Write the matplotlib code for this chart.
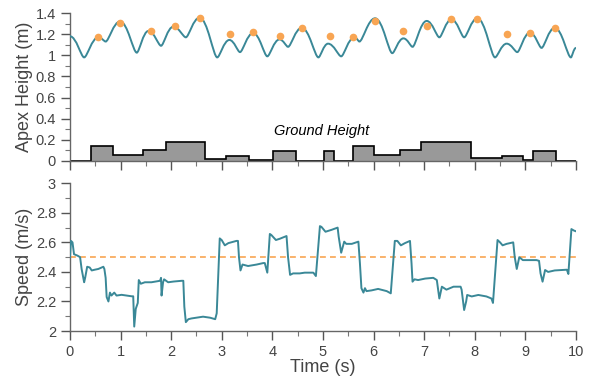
import numpy as np
import matplotlib
matplotlib.use('Agg')
import matplotlib.pyplot as plt
from matplotlib.path import Path
from matplotlib.patches import PathPatch
from matplotlib.ticker import MultipleLocator

plt.rcParams['font.family'] = ['Liberation Sans', 'DejaVu Sans']

# apex height curve: turning points (s, m)
apex_t = [0.0, 0.28, 0.56, 0.705, 0.99, 1.32, 1.55, 1.80, 2.04, 2.29,
          2.56, 2.91, 3.15, 3.36, 3.62, 3.90, 4.14, 4.31, 4.58, 4.91,
          5.10, 5.36, 5.62, 5.72, 6.03, 6.37, 6.59, 6.77, 7.05, 7.30,
          7.54, 7.79, 8.05, 8.40, 8.63, 8.84, 9.09, 9.32, 9.58, 9.90, 10.0]
apex_y = [1.18, 0.98, 1.17, 1.13, 1.32, 1.025, 1.23, 1.09, 1.27, 1.17,
          1.356, 0.98, 1.145, 1.03, 1.21, 0.99, 1.15, 1.08, 1.26, 0.98,
          1.11, 0.99, 1.17, 1.13, 1.35, 1.02, 1.16, 1.08, 1.325, 1.17,
          1.34, 1.17, 1.35, 0.98, 1.11, 1.03, 1.215, 1.07, 1.26, 0.98, 1.07]

# apex markers
dot_t = [0.56, 0.99, 1.60, 2.07, 2.56, 3.16, 3.62, 4.15, 4.58, 5.14,
         5.60, 6.03, 6.59, 7.05, 7.54, 8.05, 8.63, 9.09, 9.58]
dot_y = [1.17, 1.31, 1.23, 1.28, 1.355, 1.20, 1.22, 1.18, 1.26, 1.18,
         1.17, 1.32, 1.23, 1.28, 1.345, 1.345, 1.20, 1.21, 1.26]

# ground profile
ground_edges = [0, 0.41, 0.86, 1.45, 1.89, 2.67, 3.08, 3.54, 4.02, 4.46, 5.03,
                5.21, 5.60, 6.01, 6.52, 6.94, 7.92, 8.53, 8.95, 9.16, 9.60, 10]
ground_h = [0, 0.14, 0.06, 0.10, 0.18, 0.02, 0.045, 0.01, 0.09, 0,
            0.09, 0, 0.14, 0.06, 0.10, 0.18, 0.025, 0.045, 0.01, 0.09, 0]

# speed trace
speed_t = [0.00, 0.02, 0.05, 0.08, 0.15, 0.20, 0.23, 0.28, 0.30, 0.34,
           0.39, 0.43, 0.49, 0.56, 0.66, 0.68, 0.705, 0.725, 0.76, 0.79,
           0.82, 0.875, 0.92, 1.02, 1.12, 1.22, 1.25, 1.27, 1.30, 1.34,
           1.36, 1.40, 1.48, 1.61, 1.70, 1.78, 1.80, 1.81, 1.84, 1.86,
           1.94, 2.05, 2.21, 2.24, 2.26, 2.29, 2.34, 2.40, 2.50, 2.63,
           2.77, 2.87, 2.90, 2.96, 3.00, 3.06, 3.13, 3.29, 3.32, 3.34,
           3.37, 3.41, 3.52, 3.69, 3.82, 3.85, 3.90, 3.95, 3.98, 4.07,
           4.15, 4.28, 4.31, 4.35, 4.41, 4.54, 4.64, 4.81, 4.86, 4.94,
           4.97, 5.05, 5.17, 5.29, 5.31, 5.36, 5.42, 5.46, 5.57, 5.70,
           5.73, 5.76, 5.80, 5.83, 5.86, 5.96, 6.09, 6.26, 6.34, 6.42,
           6.47, 6.54, 6.62, 6.72, 6.75, 6.77, 6.81, 6.88, 7.02, 7.18,
           7.25, 7.30, 7.35, 7.44, 7.58, 7.72, 7.74, 7.79, 7.83, 7.85,
           7.94, 8.07, 8.23, 8.33, 8.36, 8.45, 8.50, 8.55, 8.63, 8.76,
           8.79, 8.83, 8.88, 8.95, 9.02, 9.22, 9.27, 9.30, 9.34, 9.39,
           9.45, 9.58, 9.82, 9.85, 9.91, 9.96, 10.0]
speed_v = [2.50, 2.61, 2.60, 2.52, 2.51, 2.50, 2.42, 2.33, 2.36, 2.435,
           2.43, 2.41, 2.415, 2.42, 2.435, 2.42, 2.36, 2.23, 2.20, 2.26,
           2.24, 2.26, 2.24, 2.245, 2.24, 2.235, 2.235, 2.03, 2.15, 2.19,
           2.345, 2.32, 2.33, 2.33, 2.335, 2.34, 2.36, 2.24, 2.33, 2.35,
           2.33, 2.335, 2.34, 2.34, 2.165, 2.06, 2.08, 2.085, 2.09, 2.097,
           2.09, 2.08, 2.12, 2.627, 2.615, 2.58, 2.595, 2.61, 2.61, 2.50,
           2.41, 2.45, 2.44, 2.45, 2.46, 2.46, 2.395, 2.657, 2.65, 2.616,
           2.625, 2.643, 2.50, 2.38, 2.39, 2.39, 2.395, 2.395, 2.372, 2.71,
           2.705, 2.672, 2.685, 2.70, 2.64, 2.53, 2.605, 2.59, 2.59, 2.605,
           2.46, 2.29, 2.26, 2.29, 2.27, 2.275, 2.285, 2.27, 2.255, 2.61,
           2.61, 2.58, 2.595, 2.61, 2.46, 2.334, 2.35, 2.345, 2.355, 2.36,
           2.345, 2.22, 2.30, 2.28, 2.30, 2.30, 2.28, 2.142, 2.20, 2.244,
           2.234, 2.244, 2.234, 2.22, 2.19, 2.616, 2.60, 2.58, 2.59, 2.60,
           2.50, 2.42, 2.50, 2.48, 2.48, 2.48, 2.475, 2.39, 2.334, 2.413,
           2.40, 2.41, 2.415, 2.386, 2.69, 2.68, 2.675]

target_speed = 2.5

teal = '#3a8897'
orange = '#f8a553'
grey_txt = '#444444'

fig = plt.figure(figsize=(5.95, 3.77), dpi=100)
ax1 = fig.add_axes([0.1176, 0.573, 0.8504, 0.3925])
ax2 = fig.add_axes([0.1176, 0.122, 0.8504, 0.3918])


def handle(i):
    # broad tops, tighter bottoms
    y = apex_y[i]
    nb = [apex_y[j] for j in (i - 1, i + 1) if 0 <= j < len(apex_y)]
    return 0.45 if y >= max(nb) else 0.22


verts = [(apex_t[0], apex_y[0])]
codes = [Path.MOVETO]
for i in range(len(apex_t) - 1):
    d = apex_t[i + 1] - apex_t[i]
    verts += [(apex_t[i] + d * handle(i), apex_y[i]),
              (apex_t[i + 1] - d * handle(i + 1), apex_y[i + 1]),
              (apex_t[i + 1], apex_y[i + 1])]
    codes += [Path.CURVE4] * 3
ax1.add_patch(PathPatch(Path(verts, codes), fill=False, edgecolor=teal, lw=1.4, zorder=3))
ax1.plot(dot_t, dot_y, 'o', color=orange, ms=5.5, mec='none', zorder=4)

ax1.stairs(ground_h, ground_edges, fill=True, facecolor='#999999', edgecolor='none', zorder=2)
ax1.stairs(ground_h, ground_edges, color='black', lw=1.2, zorder=2.5)
ax1.text(4.98, 0.28, 'Ground Height', style='italic', fontsize=10.5, ha='center', va='center')

ax2.plot(speed_t, speed_v, color=teal, lw=1.4, zorder=3)
ax2.axhline(target_speed, color=orange, ls=(0, (3.5, 2.5)), lw=1.2, zorder=2)

for ax in (ax1, ax2):
    ax.set_xlim(0, 10)
    for s in ('top', 'right'):
        ax.spines[s].set_visible(False)
    for s in ('left', 'bottom'):
        ax.spines[s].set_color('#666666')
        ax.spines[s].set_linewidth(1.0)
    ax.xaxis.set_major_locator(MultipleLocator(1))
    ax.xaxis.set_minor_locator(MultipleLocator(0.5))
    ax.tick_params(which='major', length=6.5, width=1.0, color='#555555',
                   labelsize=10.5, labelcolor=grey_txt, direction='out')
    ax.tick_params(which='minor', length=3.5, width=0.8, color='#777777', direction='out')

ax1.set_ylim(0, 1.4)
ax1.set_yticks(np.arange(0, 1.41, 0.2))
ax1.set_yticklabels(['0', '0.2', '0.4', '0.6', '0.8', '1', '1.2', '1.4'])
ax1.yaxis.set_minor_locator(MultipleLocator(0.1))
ax1.tick_params(axis='x', labelbottom=False)
ax1.set_ylabel('Apex Height (m)', fontsize=13, color=grey_txt, labelpad=2)

ax2.set_ylim(2, 3)
ax2.set_yticks(np.arange(2, 3.01, 0.2))
ax2.set_yticklabels(['2', '2.2', '2.4', '2.6', '2.8', '3'])
ax2.yaxis.set_minor_locator(MultipleLocator(0.1))
ax2.set_xticks(range(11))
ax2.set_xticklabels([str(i) for i in range(11)])
ax2.set_ylabel('Speed (m/s)', fontsize=13, color=grey_txt, labelpad=2)
ax2.set_xlabel('Time (s)', fontsize=13, color=grey_txt, labelpad=0)

fig.savefig('out.png', dpi=100)
